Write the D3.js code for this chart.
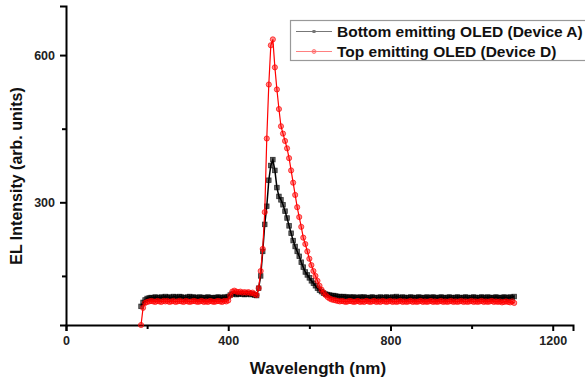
<!DOCTYPE html>
<html lang="en">
<head>
<meta charset="UTF-8">
<title>EL spectra: bottom vs top emitting OLED</title>
<script src="https://d3js.org/d3.v7.min.js"></script>
<style>
    body { margin: 0; background: #fff; }
    svg { display: block; font-family: "Liberation Sans", Arial, sans-serif; }
    .tick text { font-weight: bold; font-size: 12.5px; fill: #222; }
    .axis-title { font-weight: bold; fill: #111; }
    .legend text { font-weight: bold; font-size: 15.5px; fill: #111; }
</style>
</head>
<body>
<svg id="chart" width="585" height="380"></svg>
<script>
// wavelength grid of the sampled spectra (nm), every 5 nm from 185 to 1105
const wavelengths = d3.range(185, 1106, 5);

// Bottom emitting OLED (Device A)
const deviceA = [
    88, 96, 101, 104, 105, 106, 105, 107, 106, 105, 107, 106, 108,
    106, 107, 105, 108, 107, 106, 108, 107, 106, 105, 107, 108, 106,
    107, 106, 105, 107, 106, 105, 106, 107, 105, 106, 105, 106, 107,
    106, 105, 107, 106, 108, 111, 113, 114, 112, 113, 114, 113, 112,
    113, 114, 112, 113, 111, 110, 125, 150, 200, 255, 292, 345, 375,
    387, 365, 330, 312, 305, 295, 282, 268, 252, 237, 222, 210, 200,
    190, 178, 168, 158, 152, 146, 140, 135, 130, 125, 121, 118, 115,
    113, 112, 111, 110, 110, 109, 108, 108, 107, 108, 107, 106, 107,
    106, 107, 106, 105, 107, 106, 107, 106, 105, 106, 107, 106, 105,
    106, 107, 105, 106, 107, 106, 105, 107, 106, 108, 106, 105, 107,
    106, 105, 106, 107, 106, 105, 106, 107, 106, 105, 106, 107, 105,
    106, 107, 106, 105, 106, 107, 106, 105, 106, 107, 106, 105, 106,
    107, 106, 105, 106, 107, 106, 105, 106, 107, 106, 105, 106, 107,
    106, 105, 107, 106, 105, 106, 107, 106, 105, 106, 107, 106, 105,
    107, 106, 108
];

// Top emitting OLED (Device D)
const deviceD = [
    50, 85, 95, 97, 98, 99, 98, 97, 99, 98, 97, 99, 98,
    99, 97, 98, 99, 97, 98, 99, 98, 97, 99, 98, 97, 98,
    99, 98, 97, 98, 99, 97, 98, 97, 99, 98, 97, 98, 99,
    98, 97, 99, 98, 100, 110, 118, 120, 118, 117, 118, 116, 117,
    116, 117, 115, 116, 113, 111, 125, 160, 205, 280, 430, 540, 620,
    632, 575, 530, 490, 455, 440, 425, 410, 390, 365, 340, 315, 290,
    270, 250, 228, 215, 200, 185, 172, 160, 150, 140, 130, 122, 116,
    111, 107, 104, 102, 101, 100, 99, 98, 99, 98, 97, 98, 99,
    98, 97, 98, 99, 97, 98, 97, 99, 98, 97, 98, 99, 97,
    98, 97, 99, 98, 97, 98, 99, 97, 98, 97, 98, 99, 97,
    98, 97, 98, 99, 97, 98, 97, 98, 99, 97, 98, 97, 98,
    99, 97, 98, 97, 98, 99, 97, 98, 97, 98, 99, 97, 98,
    97, 98, 99, 97, 98, 97, 98, 99, 97, 98, 97, 98, 99,
    97, 98, 97, 98, 99, 97, 98, 97, 98, 96, 97, 98, 97,
    96, 98, 95
];

const seriesNames = ["Bottom emitting OLED (Device A)", "Top emitting OLED (Device D)"];
const xTicks = [0, 400, 800, 1200];
const xMinorTicks = [200, 600, 1000];
const yTicks = [300, 600];
const yMinorTicks = [150, 450];

const width = 585;
const height = 380;
const margin = { top: 6, right: 12, bottom: 55, left: 66 };

const svg = d3.select("#chart");

const x = d3.scaleLinear().domain([0, 1250]).range([margin.left, width - margin.right]);
const y = d3.scaleLinear().domain([50, 700]).range([height - margin.bottom, margin.top]);

// axes: major ticks with labels, minor ticks without
const xAxis = svg.append("g")
    .attr("transform", `translate(0,${height - margin.bottom})`)
    .call(d3.axisBottom(x).tickValues(xTicks).tickSize(6).tickPadding(5).tickFormat(d3.format("d")));
svg.append("g")
    .attr("transform", `translate(0,${height - margin.bottom})`)
    .call(d3.axisBottom(x).tickValues(xMinorTicks).tickSize(4).tickFormat(""))
    .call(g => g.select(".domain").remove());

const yAxis = svg.append("g")
    .attr("transform", `translate(${margin.left},0)`)
    .call(d3.axisLeft(y).tickValues(yTicks).tickSize(6).tickPadding(5).tickFormat(d3.format("d")));
svg.append("g")
    .attr("transform", `translate(${margin.left},0)`)
    .call(d3.axisLeft(y).tickValues(yMinorTicks).tickSize(4).tickFormat(""))
    .call(g => g.select(".domain").remove());

svg.selectAll(".domain").attr("stroke", "#000").attr("stroke-width", 2);
svg.selectAll(".tick line").attr("stroke", "#000").attr("stroke-width", 2);

// axis titles
svg.append("text")
    .attr("class", "axis-title")
    .attr("x", 318)
    .attr("y", 374)
    .attr("text-anchor", "middle")
    .style("font-size", "17px")
    .text("Wavelength (nm)");

svg.append("text")
    .attr("class", "axis-title")
    .attr("transform", "translate(22,176) rotate(-90)")
    .attr("text-anchor", "middle")
    .style("font-size", "16px")
    .text("EL Intensity (arb. units)");

const pointsA = wavelengths.map((w, i) => ({ w, v: deviceA[i] }));
const pointsD = wavelengths.map((w, i) => ({ w, v: deviceD[i] }));

const line = d3.line().x(d => x(d.w)).y(d => y(d.v));

// Device A: black line with square markers
svg.append("path")
    .datum(pointsA)
    .attr("fill", "none")
    .attr("stroke", "#000")
    .attr("stroke-width", 1.5)
    .attr("d", line);

svg.append("g")
    .selectAll("rect")
    .data(pointsA)
    .join("rect")
    .attr("x", d => x(d.w) - 2.3)
    .attr("y", d => y(d.v) - 2.3)
    .attr("width", 4.6)
    .attr("height", 4.6)
    .attr("fill", "rgba(0,0,0,0.6)")
    .attr("stroke", "rgba(0,0,0,0.7)")
    .attr("stroke-width", 0.8);

// Device D: red line with circle markers
svg.append("path")
    .datum(pointsD)
    .attr("fill", "none")
    .attr("stroke", "#ff0000")
    .attr("stroke-width", 1.2)
    .attr("d", line);

svg.append("g")
    .selectAll("circle")
    .data(pointsD)
    .join("circle")
    .attr("cx", d => x(d.w))
    .attr("cy", d => y(d.v))
    .attr("r", 2.6)
    .attr("fill", "rgba(255,0,0,0.45)")
    .attr("stroke", "rgba(255,0,0,0.75)")
    .attr("stroke-width", 0.9);

// legend
const legend = svg.append("g").attr("class", "legend");
legend.append("rect")
    .attr("x", 290.5)
    .attr("y", 20.5)
    .attr("width", 320)
    .attr("height", 40)
    .attr("fill", "#fff")
    .attr("stroke", "#999")
    .attr("stroke-width", 1.2);

const legendColors = ["#777", "#ff8080"];
seriesNames.forEach((name, i) => {
    const ly = 31.5 + i * 20;
    const row = legend.append("g");
    row.append("line")
        .attr("x1", 296).attr("x2", 332)
        .attr("y1", ly).attr("y2", ly)
        .attr("stroke", legendColors[i])
        .attr("stroke-width", 1);
    if (i === 0) {
        row.append("rect")
            .attr("x", 312.5).attr("y", ly - 1.5)
            .attr("width", 3).attr("height", 3)
            .attr("fill", "#777");
    } else {
        row.append("circle")
            .attr("cx", 314).attr("cy", ly).attr("r", 2)
            .attr("fill", "rgba(255,0,0,0.25)")
            .attr("stroke", "#ff8080");
    }
    row.append("text")
        .attr("x", 337)
        .attr("y", ly + 5.5)
        .text(name);
});
</script>
</body>
</html>
